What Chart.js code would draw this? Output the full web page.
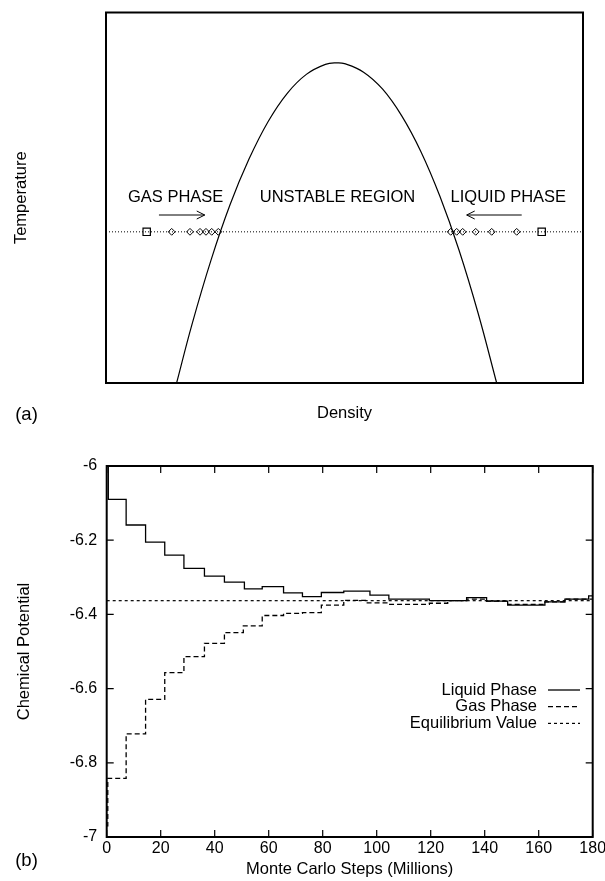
<!DOCTYPE html>
<html>
<head>
<meta charset="utf-8">
<script src="https://cdn.jsdelivr.net/npm/chart.js@4.4.0/dist/chart.umd.min.js"></script>
<style>
  html, body { margin: 0; padding: 0; background: #fff; }
  body { width: 605px; height: 881px; position: relative; overflow: hidden; }
  canvas { position: absolute; left: 0; }
  #phaseChart { top: 0; }
  #muChart { top: 430px; }
</style>
</head>
<body>
<canvas id="phaseChart" width="605" height="430"></canvas>
<canvas id="muChart" width="605" height="451"></canvas>
<script>
// (a) coexistence dome, density vs temperature (both in reduced 0..1 units)
const domeDensity = [0.148, 0.18, 0.22, 0.26, 0.30, 0.34, 0.38, 0.42, 0.46, 0.4835, 0.50, 0.54, 0.58, 0.62, 0.66, 0.70, 0.74, 0.78, 0.819];
const domeTemp = [0, 0.157, 0.331, 0.481, 0.605, 0.706, 0.782, 0.833, 0.860, 0.864, 0.862, 0.839, 0.793, 0.721, 0.625, 0.504, 0.359, 0.189, 0];
const runTemp = 0.408;
const startDensities = [0.0853, 0.9134];
const gasDensities = [0.1377, 0.1761, 0.1971, 0.2096, 0.2216, 0.2354];
const liquidDensities = [0.7226, 0.7352, 0.7478, 0.7751, 0.8086, 0.861];
const arrowFrom = [0.111, 0.8715];
const arrowTo = [0.207, 0.7562];
const arrowTemp = 0.4534;
const regionNames = ['GAS PHASE', 'UNSTABLE REGION', 'LIQUID PHASE'];
const regionDensity = [0.146, 0.4853, 0.8434];
const regionTemp = 0.5;

// (b) chemical potential vs Monte Carlo steps (millions)
const liquidSteps = [0, 0.6, 7.2, 14.4, 21.5, 28.6, 36.2, 43.6, 51.0, 57.6, 65.5, 72.5, 79.5, 87.8, 97.5, 104.5, 119.5, 133.3, 140.7, 148.5, 162.3, 169.7, 178.5, 180];
const liquidMu = [-6.00, -6.090, -6.159, -6.205, -6.240, -6.276, -6.297, -6.313, -6.331, -6.325, -6.342, -6.352, -6.341, -6.337, -6.348, -6.359, -6.363, -6.355, -6.364, -6.375, -6.366, -6.359, -6.350, -6.350];
const gasSteps = [0, 0.4, 7.2, 14.4, 21.5, 28.6, 36.2, 43.6, 50.6, 57.6, 65.5, 72.5, 79.5, 87.8, 96.5, 104.5, 119.5, 126.3, 133.3, 140.7, 148.5, 162.3, 169.7, 180];
const gasMu = [-6.97, -6.842, -6.722, -6.629, -6.557, -6.514, -6.478, -6.449, -6.431, -6.403, -6.397, -6.395, -6.375, -6.362, -6.369, -6.373, -6.370, -6.363, -6.359, -6.364, -6.373, -6.366, -6.359, -6.359];
const equilibriumMu = -6.363;
const stepRange = [0, 180];

const FONT = "'Liberation Sans', Arial, Helvetica, sans-serif";
Chart.defaults.font.family = FONT;
Chart.defaults.font.size = 16;
Chart.defaults.color = '#000';

const pts = (xs, ys) => xs.map((x, i) => ({x, y: Array.isArray(ys) ? ys[i] : ys}));

// box around the plot area
const frame = {
  id: 'frame',
  afterDatasetsDraw(chart, args, opts) {
    const a = chart.chartArea;
    const ctx = chart.ctx;
    ctx.save();
    ctx.strokeStyle = '#000';
    ctx.lineWidth = opts.width || 2;
    ctx.strokeRect(a.left, a.top, a.right - a.left, a.bottom - a.top);
    ctx.restore();
  }
};

// gnuplot-style tick marks pointing into the plot on all four sides
const innerTicks = {
  id: 'innerTicks',
  afterDatasetsDraw(chart, args, opts) {
    const {ctx, chartArea: a, scales: {x, y}} = chart;
    const len = opts.length || 7;
    ctx.save();
    ctx.strokeStyle = '#000';
    ctx.lineWidth = 1.2;
    ctx.beginPath();
    x.ticks.forEach(t => {
      const px = x.getPixelForValue(t.value);
      ctx.moveTo(px, a.bottom); ctx.lineTo(px, a.bottom - len);
      ctx.moveTo(px, a.top); ctx.lineTo(px, a.top + len);
    });
    y.ticks.forEach(t => {
      const py = y.getPixelForValue(t.value);
      ctx.moveTo(a.left, py); ctx.lineTo(a.left + len, py);
      ctx.moveTo(a.right, py); ctx.lineTo(a.right - len, py);
    });
    ctx.stroke();
    ctx.restore();
  }
};

// "(a)" / "(b)" panel tag
const panelTag = {
  id: 'panelTag',
  afterDraw(chart, args, opts) {
    const ctx = chart.ctx;
    ctx.save();
    ctx.font = `${opts.size}px ${FONT}`;
    ctx.fillStyle = '#000';
    ctx.textAlign = 'center';
    ctx.textBaseline = 'middle';
    ctx.fillText(opts.text, opts.x, opts.y);
    ctx.restore();
  }
};

// region names and arrow heads on the phase diagram
const phaseNotes = {
  id: 'phaseNotes',
  afterDatasetsDraw(chart) {
    const {ctx, scales: {x, y}} = chart;
    ctx.save();
    ctx.font = `16.5px ${FONT}`;
    ctx.fillStyle = '#000';
    ctx.textAlign = 'center';
    ctx.textBaseline = 'middle';
    regionNames.forEach((t, i) => {
      ctx.fillText(t, x.getPixelForValue(regionDensity[i]), y.getPixelForValue(regionTemp));
    });
    ctx.strokeStyle = '#000';
    ctx.lineWidth = 1;
    arrowTo.forEach((to, i) => {
      const dir = Math.sign(to - arrowFrom[i]);
      const tx = x.getPixelForValue(to);
      const ty = y.getPixelForValue(arrowTemp);
      ctx.beginPath();
      ctx.moveTo(tx - dir * 8, ty - 4);
      ctx.lineTo(tx, ty);
      ctx.lineTo(tx - dir * 8, ty + 4);
      ctx.stroke();
    });
    ctx.restore();
  }
};

// key in the lower right: right-aligned label, then a line sample
const lineKey = {
  id: 'lineKey',
  afterDraw(chart, args, opts) {
    const {ctx, chartArea: a} = chart;
    ctx.save();
    ctx.font = `16.5px ${FONT}`;
    ctx.textAlign = 'right';
    ctx.textBaseline = 'middle';
    chart.data.datasets.forEach((ds, i) => {
      const yy = a.top + opts.top + i * opts.row;
      ctx.fillStyle = '#000';
      ctx.fillText(ds.label, a.right - opts.textInset, yy);
      ctx.beginPath();
      ctx.setLineDash(ds.borderDash || []);
      ctx.lineWidth = ds.borderWidth;
      ctx.strokeStyle = ds.borderColor;
      ctx.moveTo(a.right - opts.sampleFrom, yy);
      ctx.lineTo(a.right - opts.sampleTo, yy);
      ctx.stroke();
    });
    ctx.restore();
  }
};

const fixedSize = (prop, size) => s => {
  s[prop] = size;
  s.paddingLeft = s.paddingRight = s.paddingTop = s.paddingBottom = 0;
};

new Chart(document.getElementById('phaseChart'), {
  type: 'scatter',
  data: {
    datasets: [
      {
        data: pts([0, 1], runTemp),
        showLine: true, pointRadius: 0,
        borderColor: '#000', borderWidth: 1, borderDash: [1, 2]
      },
      {
        data: pts(domeDensity, domeTemp),
        showLine: true, pointRadius: 0, tension: 0.4,
        borderColor: '#000', borderWidth: 1.2
      },
      {
        data: pts([arrowFrom[0], arrowTo[0]], arrowTemp),
        showLine: true, pointRadius: 0, borderColor: '#000', borderWidth: 1
      },
      {
        data: pts([arrowFrom[1], arrowTo[1]], arrowTemp),
        showLine: true, pointRadius: 0, borderColor: '#000', borderWidth: 1
      },
      {
        data: pts(gasDensities, runTemp),
        pointStyle: 'rectRot', pointRadius: 3.4, borderWidth: 1,
        borderColor: '#000', backgroundColor: 'rgba(0,0,0,0)'
      },
      {
        data: pts(liquidDensities, runTemp),
        pointStyle: 'rectRot', pointRadius: 3.4, borderWidth: 1,
        borderColor: '#000', backgroundColor: 'rgba(0,0,0,0)'
      },
      {
        data: pts(startDensities, runTemp),
        pointStyle: 'rect', pointRadius: 5.2, borderWidth: 1.2,
        borderColor: '#000', backgroundColor: 'rgba(0,0,0,0)'
      }
    ]
  },
  options: {
    responsive: false,
    animation: false,
    events: [],
    layout: {padding: {top: 12.5, right: 22, left: 0, bottom: 0}},
    scales: {
      x: {
        type: 'linear', min: 0, max: 1,
        grid: {display: false, drawTicks: false}, border: {display: false},
        ticks: {display: false},
        title: {display: true, text: 'Density', font: {size: 16.5}, padding: {top: 0, bottom: 7}},
        afterFit: fixedSize('height', 47)
      },
      y: {
        type: 'linear', min: 0, max: 1,
        grid: {display: false, drawTicks: false}, border: {display: false},
        ticks: {display: false},
        title: {display: true, text: 'Temperature', font: {size: 16.5}, padding: {top: 12, bottom: 0}},
        afterFit: fixedSize('width', 106)
      }
    },
    plugins: {
      legend: {display: false},
      tooltip: {enabled: false},
      frame: {width: 2},
      panelTag: {text: '(a)', x: 26.5, y: 415, size: 18.5}
    }
  },
  plugins: [frame, phaseNotes, panelTag]
});

new Chart(document.getElementById('muChart'), {
  type: 'scatter',
  data: {
    datasets: [
      {
        label: 'Liquid Phase',
        data: pts(liquidSteps, liquidMu),
        showLine: true, stepped: 'before', pointRadius: 0,
        borderColor: '#000', borderWidth: 1.3, borderDash: []
      },
      {
        label: 'Gas Phase',
        data: pts(gasSteps, gasMu),
        showLine: true, stepped: 'before', pointRadius: 0,
        borderColor: '#000', borderWidth: 1.3, borderDash: [5, 3]
      },
      {
        label: 'Equilibrium Value',
        data: pts(stepRange, equilibriumMu),
        showLine: true, pointRadius: 0,
        borderColor: '#000', borderWidth: 1.2, borderDash: [3, 3]
      }
    ]
  },
  options: {
    responsive: false,
    animation: false,
    events: [],
    layout: {padding: {top: 36, right: 12.3, left: 0, bottom: 0}},
    scales: {
      x: {
        type: 'linear', min: 0, max: 180,
        grid: {display: false, drawTicks: false}, border: {display: false},
        ticks: {stepSize: 20, padding: 2, maxRotation: 0, autoSkip: false},
        title: {display: true, text: 'Monte Carlo Steps (Millions)', font: {size: 16.5}, padding: {top: 0, bottom: 2}},
        afterFit: fixedSize('height', 44)
      },
      y: {
        type: 'linear', min: -7, max: -6,
        grid: {display: false, drawTicks: false}, border: {display: false},
        ticks: {stepSize: 0.2, padding: 9.5, callback: v => String(Math.round(v * 10) / 10)},
        title: {display: true, text: 'Chemical Potential', font: {size: 16.5}, padding: {top: 15, bottom: 0}},
        afterFit: fixedSize('width', 106.7)
      }
    },
    plugins: {
      legend: {display: false},
      tooltip: {enabled: false},
      frame: {width: 2},
      innerTicks: {length: 7},
      lineKey: {top: 224, row: 16.7, textInset: 55.7, sampleFrom: 44.7, sampleTo: 12.7},
      panelTag: {text: '(b)', x: 26.5, y: 431, size: 18.5}
    }
  },
  plugins: [frame, innerTicks, lineKey, panelTag]
});
</script>
</body>
</html>
